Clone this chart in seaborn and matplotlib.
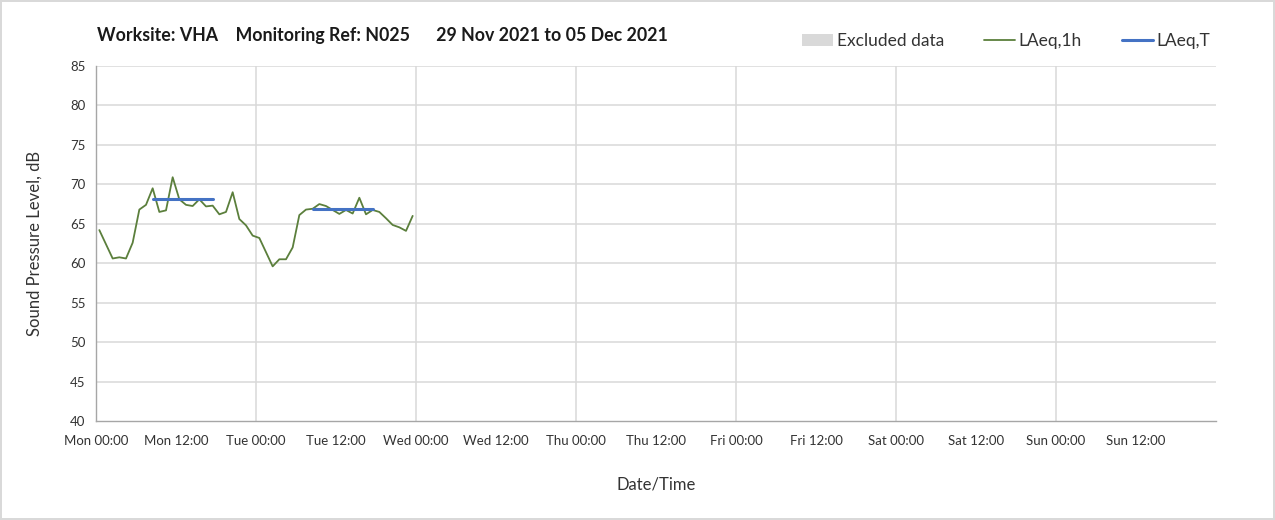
import pandas as pd
import matplotlib.pyplot as plt
import seaborn as sns
from matplotlib.patches import Patch
from matplotlib.lines import Line2D

# hourly LAeq,1h values, Mon 00:00 .. Tue 23:00 (plotted at mid-hour)
laeq_1h = [64.2, 62.4, 60.6, 60.75, 60.6, 62.6, 66.8, 67.4, 69.5, 66.5, 66.7, 70.9,
           68.1, 67.4, 67.25, 68.1, 67.2, 67.3, 66.2, 66.5, 69.0, 65.6, 64.8, 63.5,
           63.2, 61.4, 59.6, 60.5, 60.5, 62.0, 66.1, 66.8, 66.9, 67.5, 67.25, 66.75,
           66.25, 66.75, 66.3, 68.3, 66.2, 66.75, 66.5, 65.7, 64.85, 64.55, 64.1, 66.0]
hours = [h + 0.5 for h in range(len(laeq_1h))]

# LAeq,T over daytime period per day
laeq_t_days = [0, 1]
laeq_t_vals = [68.1, 66.9]
laeq_t_start = [8.5, 32.5]
laeq_t_end = [17.5, 41.5]

day_names = ["Mon", "Tue", "Wed", "Thu", "Fri", "Sat", "Sun"]
tick_labels = [f"{d} {t}" for d in day_names for t in ("00:00", "12:00")]

df = pd.DataFrame({"hour": hours, "level": laeq_1h})
df_t = pd.DataFrame({
    "hour": laeq_t_start + laeq_t_end,
    "level": laeq_t_vals + laeq_t_vals,
    "day": laeq_t_days + laeq_t_days,
})

sns.set_style("white")
plt.rcParams["font.family"] = ["Lato", "DejaVu Sans"]

green = "#5b7f3c"
blue = "#4472c4"
grey = "#d9d9d9"

fig = plt.figure(figsize=(12.75, 5.2), dpi=100)
fig.patch.set_edgecolor("#d9d9d9")
fig.patch.set_linewidth(1.5)
ax = fig.add_axes([96 / 1275, 1 - 421 / 520, 1120 / 1275, 355 / 520])

sns.lineplot(data=df, x="hour", y="level", color=green, linewidth=1.3, ax=ax)
sns.lineplot(data=df_t, x="hour", y="level", units="day", estimator=None,
             color=blue, linewidth=2.2, ax=ax)

ax.set_xlim(0, 168)
ax.set_ylim(40, 85)
ax.set_yticks(range(40, 86, 5))
ax.set_xticks(range(0, 168, 12))
ax.set_xticklabels(tick_labels)
ax.tick_params(axis="both", labelsize=9.5, colors="#333333", length=4,
               direction="out", width=0.8)
ax.tick_params(axis="x", pad=6)
ax.tick_params(axis="both", color="#a6a6a6")

for v in range(45, 86, 5):
    ax.axhline(v, color="#d9d9d9", linewidth=1.1, zorder=0)
for d in range(24, 168, 24):
    ax.axvline(d, color="#d9d9d9", linewidth=1.1, zorder=0)

for s in ("top", "right"):
    ax.spines[s].set_visible(False)
for s in ("left", "bottom"):
    ax.spines[s].set_color("#a6a6a6")
    ax.spines[s].set_linewidth(1)

ax.set_xlabel("Date/Time", fontsize=12, color="#333333")
ax.set_ylabel("Sound Pressure Level, dB", fontsize=12, color="#333333")
ax.xaxis.set_label_coords(0.5, -(476 - 421) / 355)
ax.yaxis.set_label_coords(-(96 - 43) / 1120, 0.5)

fig.text(97 / 1275, 1 - 36 / 520,
         "Worksite: VHA    Monitoring Ref: N025      29 Nov 2021 to 05 Dec 2021",
         fontsize=12.8, fontweight="bold", va="center", ha="left", color="#1a1a1a")

handles = [
    Patch(facecolor=grey, edgecolor="none"),
    Line2D([], [], color=green, linewidth=1.3),
    Line2D([], [], color=blue, linewidth=2.2),
]
fig.legend(handles, ["Excluded data", "LAeq,1h", "LAeq,T"], ncol=3, frameon=False,
           loc="center right", bbox_to_anchor=(1226 / 1275, 1 - 41 / 520),
           fontsize=12.5, handlelength=1.8, handletextpad=0.2, columnspacing=2.3,
           labelcolor="#333333")

fig.savefig("out.png", dpi=100)
